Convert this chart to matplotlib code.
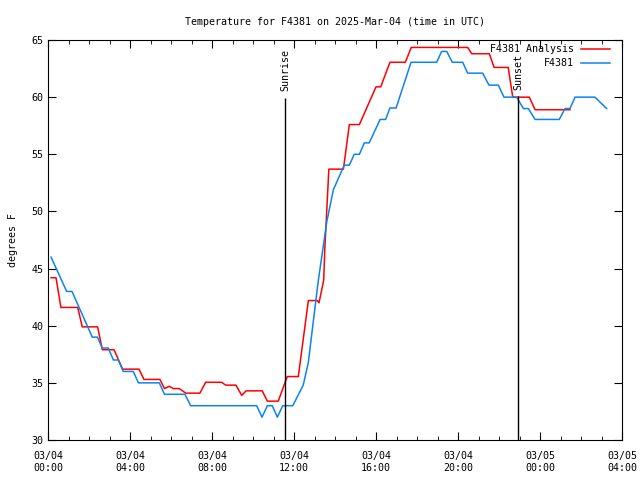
import numpy as np
import matplotlib.pyplot as plt

# hours since 2025-03-04 00:00 UTC
analysis_h = [0.15, 0.39, 0.63, 1.45, 1.67, 2.42, 2.65, 3.22, 3.64, 4.44, 4.68, 5.46,
              5.68, 5.92, 6.11, 6.40, 6.72, 7.41, 7.69, 8.47, 8.67, 9.17, 9.45, 9.66,
              10.45, 10.70, 11.23, 11.67, 12.21, 12.70, 13.14, 13.22, 13.45, 13.50,
              13.70, 14.41, 14.70, 15.19, 16.00, 16.23, 16.68, 17.43, 17.72, 20.47,
              20.67, 21.53, 21.76, 22.45, 22.67, 23.48, 23.76, 25.46]
analysis_t = [44.2, 44.2, 41.6, 41.6, 39.9, 39.9, 37.9, 37.9, 36.2, 36.2, 35.3, 35.3,
              34.5, 34.7, 34.5, 34.5, 34.1, 34.1, 35.05, 35.05, 34.8, 34.8, 33.9, 34.3,
              34.3, 33.4, 33.4, 35.55, 35.55, 42.2, 42.2, 42.0, 44.0, 46.6,
              53.7, 53.7, 57.6, 57.6, 60.9, 60.9, 63.05, 63.05, 64.35, 64.35,
              63.8, 63.8, 62.6, 62.6, 60.0, 60.0, 58.9, 58.9]

obs_h = [0.15, 0.91, 1.17, 2.16, 2.41, 2.65, 2.94, 3.19, 3.43, 3.67, 4.16, 4.41,
         5.43, 5.68, 6.68, 6.96, 10.18, 10.44, 10.70, 10.94, 11.19, 11.45, 11.94,
         12.45, 12.70, 12.95, 13.19, 13.40, 13.60, 13.92, 14.45, 14.70, 14.94, 15.19,
         15.43, 15.67, 16.20, 16.47, 16.68, 16.98, 17.71, 18.96, 19.20, 19.45, 19.72,
         20.23, 20.47, 21.20, 21.51, 21.97, 22.24, 22.86, 23.19, 23.43, 23.76, 24.94,
         25.22, 25.46, 25.71, 26.68, 27.25]
obs_t = [46.0, 43.0, 43.0, 39.0, 39.0, 38.05, 38.05, 37.0, 37.0, 36.0, 36.0, 35.0,
         35.0, 34.0, 34.0, 33.0, 33.0, 32.0, 33.0, 33.0, 32.0, 33.0, 33.0,
         34.8, 36.8, 40.5, 44.0, 46.6, 49.1, 51.9, 54.05, 54.05, 55.0, 55.0,
         56.0, 56.0, 58.05, 58.05, 59.05, 59.05, 63.05, 63.05, 64.0, 64.0, 63.05,
         63.05, 62.1, 62.1, 61.05, 61.05, 60.0, 60.0, 59.0, 59.0, 58.05, 58.05,
         59.0, 59.0, 60.0, 60.0, 59.0]

sunrise_h = 11.56
sunset_h = 22.93

tick_h = [0, 4, 8, 12, 16, 20, 24, 28]
tick_labels = ["03/04\n00:00", "03/04\n04:00", "03/04\n08:00", "03/04\n12:00",
               "03/04\n16:00", "03/04\n20:00", "03/05\n00:00", "03/05\n04:00"]

plt.rcParams['font.family'] = 'DejaVu Sans Mono'
plt.rcParams['font.size'] = 7.2

fig = plt.figure(figsize=(6.4, 4.8), dpi=100)
ax = fig.add_axes([48/640, 40/480, 574/640, 400/480])

red = '#ff0000'
blue = '#0a84f0'
ax.plot(analysis_h, analysis_t, color=red, lw=1.1)
ax.plot(obs_h, obs_t, color=blue, lw=1.1)

ax.vlines(sunrise_h, 30, 59.9, color='black', lw=1)
ax.text(sunrise_h, 60.5, "Sunrise", rotation=90, ha='center', va='bottom')
ax.vlines(sunset_h, 30, 60.1, color='black', lw=1)
ax.text(sunset_h, 60.6, "Sunset", rotation=90, ha='center', va='bottom')

# gnuplot-style key: text right-aligned, sample line to the right
tr = ax.transAxes
ax.text(0.9164, 0.977, "F4381 Analysis", transform=tr, ha='right', va='center')
ax.plot([0.9286, 0.979], [0.977, 0.977], transform=tr, color=red, lw=1.1)
ax.text(0.9164, 0.943, "F4381", transform=tr, ha='right', va='center')
ax.plot([0.9286, 0.979], [0.943, 0.943], transform=tr, color=blue, lw=1.1)

ax.set_xlim(0, 28)
ax.set_ylim(30, 65)
ax.set_xticks(tick_h)
ax.set_xticklabels(tick_labels)
ax.set_xticks(np.arange(0, 29, 1), minor=True)
ax.set_yticks(np.arange(30, 66, 5))
ax.tick_params(which='both', direction='in', top=True, right=True)
ax.tick_params(which='major', length=6)
ax.tick_params(which='minor', length=3)
ax.tick_params(axis='x', pad=8)

ax.set_ylabel("degrees F")
ax.yaxis.set_label_coords(-0.053, 0.5)
ax.set_title("Temperature for F4381 on 2025-Mar-04 (time in UTC)", pad=11, fontsize=7.2)

plt.savefig("out.png", dpi=100)
